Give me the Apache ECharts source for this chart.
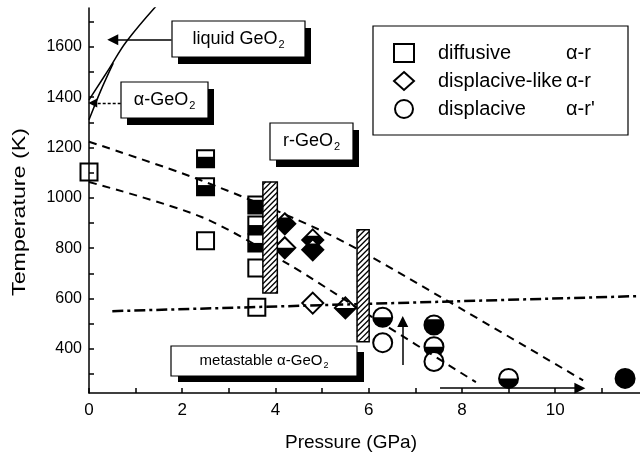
<!DOCTYPE html>
<html><head><meta charset="utf-8">
<script src="https://cdn.jsdelivr.net/npm/echarts@6/dist/echarts.min.js"></script>
<style>html,body{margin:0;padding:0;background:#fff}#c{width:640px;height:455px}</style>
</head><body><div id="c"></div>
<script>
const FONT = '"Liberation Sans", Arial, Helvetica, sans-serif';

// ---- axis ticks / labels ----
const pressureTicks = [0,1,2,3,4,5,6,7,8,9,10,11];
const pressureLabels = [0,2,4,6,8,10];
const tempTicks = [300,400,500,600,700,800,900,1000,1100,1200,1300,1400,1500,1600,1700];
const tempLabels = [400,600,800,1000,1200,1400,1600];

// ---- markers: [pressure GPa, temperature K, black fraction from bottom] ----
const diffusive = [[0,1103,0],[2.5,1155,0.62],[2.5,1044,0.6],[2.5,830,0],[3.6,972,0.8],[3.6,892,0.5],[3.6,821,0.5],[3.6,721,0],[3.6,566,0]];
const displaciveLike = [[4.2,897,0.8],[4.2,802,0.5],[4.8,833,0.7],[4.8,794,0.8],[4.8,582,0],[5.5,563,0.5]];
const displacive = [[6.3,526,0.5],[6.3,425,0],[7.4,495,0.8],[7.4,409,0.5],[7.4,350,0],[9.0,283,0.5],[11.5,283,1]];

// ---- boundary lines ----
const upperDashed = [[0,1223],[2.4,1070],[5.17,853],[7.53,608],[10.6,275]];
const lowerDashed = [[0,1063],[2.4,925],[4.2,745],[6.0,535],[8.3,268]];
const dashDot = [[0.5,550],[11.82,610]];
const liquidusA = [[0,1389],[0.44,1515],[0.8,1620],[1.5,1774]];
const liquidusB = [[0,1310],[0.25,1425],[0.52,1535]];

// ---- hatched bars: [P left, P right, T low, T high] ----
const hatchBars = [[3.73,4.04,622,1063],[5.75,6.01,429,873]];

// ---- arrows: [[from],[to]] ----
const arrowsSolid = [[[1.77,1628],[0.51,1628]],[[6.73,336],[6.73,509]],[[7.53,244],[10.53,244]]];
const arrowsDotted = [[[0.68,1377],[0.08,1377]]];

const legendSuffix = {'diffusive':'α-r','displacive-like':'α-r','displacive':"α-r'"};

const mctx = document.createElement('canvas').getContext('2d');
function tw(t, s){ mctx.font = s + 'px ' + FONT; return mctx.measureText(t).width; }

function clipBelow(pts, yc){
  const out = [];
  for (let i = 0; i < pts.length; i++){
    const a = pts[i], b = pts[(i+1) % pts.length];
    const ain = a[1] >= yc, bin = b[1] >= yc;
    if (ain) out.push(a);
    if (ain !== bin){ const t = (yc - a[1]) / (b[1] - a[1]); out.push([a[0] + t*(b[0]-a[0]), yc]); }
  }
  return out;
}

function markerRenderer(kind){
  return function(params, api){
    const c = api.coord([api.value(0), api.value(1)]);
    const f = api.value(2);
    const cx = c[0], cy = c[1];
    let pts, H;
    if (kind === 'square'){ const s = 8.5; H = s; pts = [[cx-s,cy-s],[cx+s,cy-s],[cx+s,cy+s],[cx-s,cy+s]]; }
    else if (kind === 'diamond'){ const w = 10.5, h = 10.5; H = h; pts = [[cx,cy-h],[cx+w,cy],[cx,cy+h],[cx-w,cy]]; }
    else { const r = 9.5; H = r; pts = []; for (let i = 0; i < 60; i++){ const a = i/60*2*Math.PI; pts.push([cx + r*Math.cos(a), cy + r*Math.sin(a)]); } }
    const children = [{type:'polygon', shape:{points:pts}, style:{fill:'#fff'}}];
    if (f > 0){
      const yc = cy + H - f*2*H;
      const cp = f >= 1 ? pts : clipBelow(pts, yc);
      if (cp.length > 2) children.push({type:'polygon', shape:{points:cp}, style:{fill:'#000'}});
    }
    children.push(kind === 'circle'
      ? {type:'circle', shape:{cx:cx, cy:cy, r:H}, style:{fill:'none', stroke:'#000', lineWidth:2}}
      : {type:'polygon', shape:{points:pts}, style:{fill:'none', stroke:'#000', lineWidth:2, lineJoin:'miter'}});
    return {type:'group', children: children};
  };
}

function hatchRenderer(params, api){
  const p1 = api.coord([api.value(0), api.value(3)]);
  const p2 = api.coord([api.value(1), api.value(2)]);
  const x0 = p1[0], y0 = p1[1], x1 = p2[0], y1 = p2[1];
  const children = [{type:'rect', shape:{x:x0, y:y0, width:x1-x0, height:y1-y0}, style:{fill:'#fff'}}];
  const step = 5.5;
  for (let c = x0 + y0 + step/2; c < x1 + y1; c += step){
    const xa = Math.max(x0, c - y1), xb = Math.min(x1, c - y0);
    if (xb > xa) children.push({type:'line', shape:{x1:xa, y1:c-xa, x2:xb, y2:c-xb}, style:{stroke:'#000', lineWidth:1.3}});
  }
  children.push({type:'rect', shape:{x:x0, y:y0, width:x1-x0, height:y1-y0}, style:{fill:'none', stroke:'#000', lineWidth:1.5}});
  return {type:'group', children: children};
}

function lineSeries(name, data, type, width, smooth){
  return {type:'line', name:name, data:data, symbol:'none', smooth:smooth, silent:true, z:3,
    lineStyle:{color:'#000', width:width, type:type}};
}

// annotation boxes (layout)
const boxes = [
  {x1:172, y1:21, x2:305, y2:57, main:'liquid GeO', sub:'2', fs:18, dx:6, dy:7},
  {x1:121, y1:82, x2:208, y2:118, main:'α-GeO', sub:'2', fs:18, dx:6, dy:7},
  {x1:270, y1:123, x2:353, y2:160, main:'r-GeO', sub:'2', fs:18, dx:6, dy:7},
  {x1:171, y1:346, x2:357, y2:376, main:'metastable α-GeO', sub:'2', fs:15, dx:7, dy:6}
];
const graphics = [];
boxes.forEach(function(b){
  const w = b.x2 - b.x1, h = b.y2 - b.y1;
  graphics.push({type:'rect', z:10, shape:{x:b.x1+b.dx, y:b.y1+b.dy, width:w, height:h}, style:{fill:'#000'}});
  graphics.push({type:'rect', z:11, shape:{x:b.x1, y:b.y1, width:w, height:h}, style:{fill:'#fff', stroke:'#000', lineWidth:1.2}});
  const sfs = Math.round(b.fs*0.6);
  const wm = tw(b.main, b.fs), ws = tw(b.sub, sfs);
  const tx = (b.x1 + b.x2)/2 - (wm + ws + 1)/2, ty = (b.y1 + b.y2)/2;
  graphics.push({type:'text', z:12, x:tx, y:ty, style:{text:b.main, fontSize:b.fs, fontFamily:FONT, fill:'#000', align:'left', verticalAlign:'middle', textAlign:'left', textVerticalAlign:'middle'}});
  graphics.push({type:'text', z:12, x:tx + wm + 1, y:ty + b.fs*0.32, style:{text:b.sub, fontSize:sfs, fontFamily:FONT, fill:'#000', align:'left', verticalAlign:'middle', textAlign:'left', textVerticalAlign:'middle'}});
});
// legend frame
graphics.push({type:'rect', z:1, shape:{x:373, y:26, width:255, height:109}, style:{fill:'none', stroke:'#000', lineWidth:1.2}});
// axis titles
graphics.push({type:'text', z:12, x:285, y:443, style:{text:'Pressure (GPa)', fontSize:19, fontFamily:FONT, fill:'#000', align:'left', verticalAlign:'middle', textAlign:'left', textVerticalAlign:'middle'}});
const yTitle = 'Temperature (K)';
graphics.push({type:'text', z:12, x:20, y:212, rotation:Math.PI/2, scaleX:168/tw(yTitle,19), style:{text:yTitle, fontSize:19, fontFamily:FONT, fill:'#000', align:'center', verticalAlign:'middle', textAlign:'center', textVerticalAlign:'middle'}});

const openStyle = {color:'#fff', borderColor:'#000', borderWidth:2};

const option = {
  animation:false,
  backgroundColor:'#fff',
  grid:{left:89, right:0, top:8, bottom:62, containLabel:false},
  xAxis:{type:'value', min:0, max:11.82, z:6,
    axisLine:{show:true, onZero:false, lineStyle:{color:'#000', width:1.5}},
    axisTick:{show:true, inside:true, length:5, lineStyle:{color:'#000', width:1.5}, customValues:pressureTicks},
    axisLabel:{customValues:pressureLabels, color:'#000', fontSize:17, fontFamily:FONT, margin:9, formatter:function(v){return String(v);}},
    splitLine:{show:false}},
  yAxis:{type:'value', min:225, max:1754, z:6,
    axisLine:{show:true, onZero:false, lineStyle:{color:'#000', width:1.5}},
    axisTick:{show:true, inside:true, length:5, lineStyle:{color:'#000', width:1.5}, customValues:tempTicks},
    axisLabel:{customValues:tempLabels, color:'#000', fontSize:16, fontFamily:FONT, margin:7, formatter:function(v){return String(v);}},
    splitLine:{show:false}},
  legend:{orient:'vertical', left:393, top:43, padding:0, itemWidth:20, itemHeight:18, itemGap:8, selectedMode:false,
    data:[
      {name:'diffusive', icon:'rect', itemStyle:openStyle},
      {name:'displacive-like', icon:'diamond', itemStyle:openStyle},
      {name:'displacive', icon:'circle', itemStyle:openStyle}
    ],
    formatter:function(name){ return '{p| }{n|' + name + '}{s|' + legendSuffix[name] + '}'; },
    textStyle:{fontFamily:FONT, fontSize:20, color:'#000',
      rich:{p:{width:19, fontSize:20, lineHeight:20, fontFamily:FONT},
            n:{width:128, fontSize:20, lineHeight:20, fontFamily:FONT, color:'#000'},
            s:{fontSize:20, lineHeight:20, fontFamily:FONT, color:'#000'}}}},
  graphic:{elements:graphics},
  series:[
    {type:'custom', name:'diffusive', data:diffusive, renderItem:markerRenderer('square'), z:2, clip:false, itemStyle:openStyle},
    {type:'custom', name:'displacive-like', data:displaciveLike, renderItem:markerRenderer('diamond'), z:2, clip:false, itemStyle:openStyle},
    {type:'custom', name:'displacive', data:displacive, renderItem:markerRenderer('circle'), z:2, clip:false, itemStyle:openStyle},
    lineSeries('upper', upperDashed, [8,6], 2, 0.3),
    lineSeries('lower', lowerDashed, [8,6], 2, 0.3),
    lineSeries('dashdot', dashDot, [11,4,3,4], 2.5, false),
    lineSeries('liqA', liquidusA, 'solid', 1.5, 0.4),
    lineSeries('liqB', liquidusB, 'solid', 1.5, 0.3),
    {type:'custom', name:'bars', data:hatchBars, renderItem:hatchRenderer, z:4, clip:false, silent:true},
    {type:'lines', name:'arrows', coordinateSystem:'cartesian2d', z:4, silent:true,
      data:arrowsSolid.map(function(c){return {coords:c};}),
      symbol:['none','triangle'], symbolSize:[7,11],
      lineStyle:{color:'#000', width:1.5, opacity:1, curveness:0}},
    {type:'lines', name:'arrowsDotted', coordinateSystem:'cartesian2d', z:4, silent:true,
      data:arrowsDotted.map(function(c){return {coords:c};}),
      symbol:['none','triangle'], symbolSize:[6,9],
      lineStyle:{color:'#000', width:1.3, opacity:1, type:[3,2], curveness:0}}
  ]
};
const chart = echarts.init(document.getElementById('c'));
chart.setOption(option);
</script></body></html>
